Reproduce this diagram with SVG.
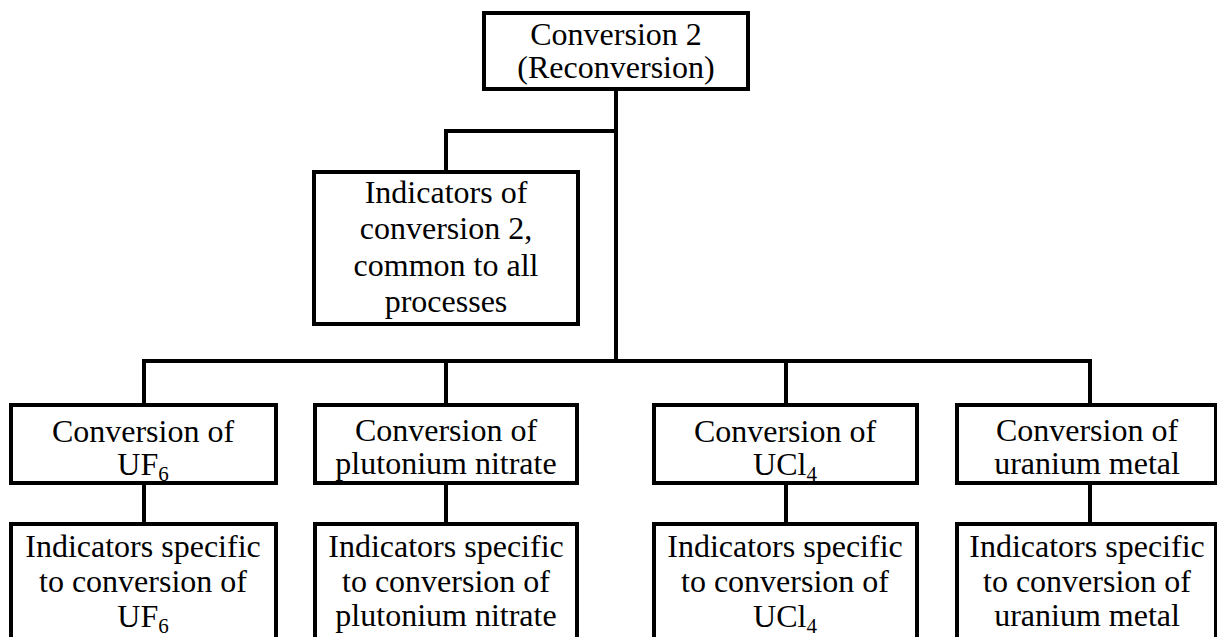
<svg xmlns="http://www.w3.org/2000/svg" width="1217" height="637" viewBox="0 0 1217 637">
<style>
.box{fill:#fff;stroke:#000;stroke-width:4}
.t{font-family:'Liberation Serif','DejaVu Serif',serif;font-size:32px;fill:#000;text-anchor:middle}
.sub{font-size:21px}
.c{fill:none;stroke:#000;stroke-width:4}
</style>
<rect width="1217" height="637" fill="#fff"/>
<g id="connectors">
<path class="c" d="M616 89V361M616 131H446V172M144 405V361H1090V405M446 361V405M786 361V405"/>
<path class="c" d="M144 483V524M446 483V524M786 483V524M1090 483V524"/>
</g>
<g id="root">
<rect class="box" x="484" y="13" width="264" height="76"/>
<text class="t" x="616" y="45">Conversion 2</text>
<text class="t" x="616" y="78">(Reconversion)</text>
</g>
<g id="common">
<rect class="box" x="314" y="172" width="264" height="152"/>
<text class="t" x="446" y="203">Indicators of</text>
<text class="t" x="446" y="239">conversion 2,</text>
<text class="t" x="446" y="276">common to all</text>
<text class="t" x="446" y="312">processes</text>
</g>
<g id="conv-uf6">
<rect class="box" x="11" y="405" width="265" height="78"/>
<text class="t" x="143" y="442">Conversion of</text>
<text class="t" x="143" y="475">UF<tspan class="sub" dy="6">6</tspan></text>
</g>
<g id="conv-pu">
<rect class="box" x="315" y="405" width="262" height="78"/>
<text class="t" x="446" y="441">Conversion of</text>
<text class="t" x="446" y="474">plutonium nitrate</text>
</g>
<g id="conv-ucl4">
<rect class="box" x="654" y="405" width="263" height="78"/>
<text class="t" x="785" y="442">Conversion of</text>
<text class="t" x="785" y="475">UCl<tspan class="sub" dy="6">4</tspan></text>
</g>
<g id="conv-umetal">
<rect class="box" x="957" y="405" width="259" height="78"/>
<text class="t" x="1087" y="441">Conversion of</text>
<text class="t" x="1087" y="474">uranium metal</text>
</g>
<g id="ind-uf6">
<rect class="box" x="11" y="524" width="265" height="116"/>
<text class="t" x="143" y="557">Indicators specific</text>
<text class="t" x="143" y="592">to conversion of</text>
<text class="t" x="143" y="627">UF<tspan class="sub" dy="6">6</tspan></text>
</g>
<g id="ind-pu">
<rect class="box" x="315" y="524" width="262" height="116"/>
<text class="t" x="446" y="557">Indicators specific</text>
<text class="t" x="446" y="592">to conversion of</text>
<text class="t" x="446" y="626">plutonium nitrate</text>
</g>
<g id="ind-ucl4">
<rect class="box" x="654" y="524" width="263" height="116"/>
<text class="t" x="785" y="557">Indicators specific</text>
<text class="t" x="785" y="592">to conversion of</text>
<text class="t" x="785" y="627">UCl<tspan class="sub" dy="6">4</tspan></text>
</g>
<g id="ind-umetal">
<rect class="box" x="957" y="524" width="259" height="116"/>
<text class="t" x="1087" y="557">Indicators specific</text>
<text class="t" x="1087" y="592">to conversion of</text>
<text class="t" x="1087" y="626">uranium metal</text>
</g>
</svg>
